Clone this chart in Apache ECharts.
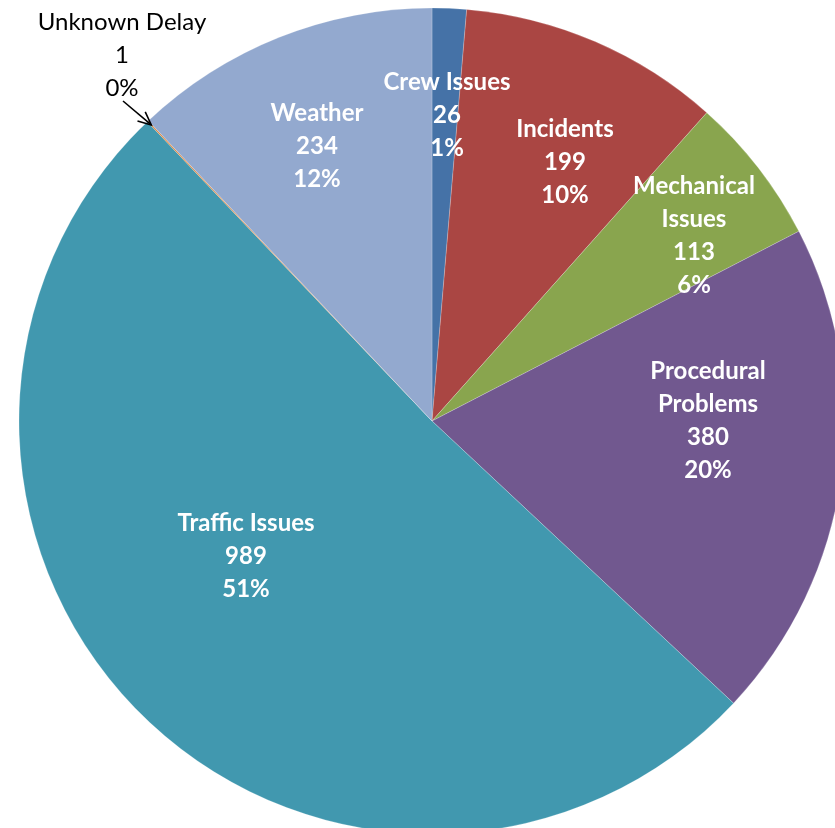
<!DOCTYPE html>
<html>
<head>
<meta charset="utf-8">
<script src="https://cdn.jsdelivr.net/npm/echarts@6/dist/echarts.min.js"></script>
<style>
  html, body { margin: 0; padding: 0; background: #fff; }
  #chart { width: 835px; height: 828px; }
</style>
</head>
<body>
<div id="chart"></div>
<script>
// categories, in drawing order clockwise from 12 o'clock
var categories = ['Crew Issues', 'Incidents', 'Mechanical Issues', 'Procedural Problems', 'Traffic Issues', 'Unknown Delay', 'Weather'];
var labelNames = ['Crew Issues', 'Incidents', 'Mechanical\nIssues', 'Procedural\nProblems', 'Traffic Issues', 'Unknown Delay', 'Weather'];
var delays = [26, 199, 113, 380, 989, 1, 234];
var colors = ['#4572A7', '#AA4643', '#89A54E', '#71588F', '#4198AF', '#DB843D', '#93A9CF'];

// where each data label sits (block centre)
var labelPos = [[447, 115], [565, 162], [694, 236], [708, 421], [246, 556], [122, 55], [317, 146]];

var cx = 432, cy = 421, R = 413;
var total = delays.reduce(function (a, b) { return a + b; }, 0);

// point on the rim in the middle of the 'Unknown Delay' slice (arrow tip)
var unkIdx = categories.indexOf('Unknown Delay');
var before = 0;
for (var i = 0; i < unkIdx; i++) before += delays[i];
var ang = (90 - (before + delays[unkIdx] / 2) / total * 360) * Math.PI / 180;
var tip = [cx + (R - 5) * Math.cos(ang), cy - (R - 5) * Math.sin(ang)];
var tail = [123, 101];

// arrow head
var dx = tip[0] - tail[0], dy = tip[1] - tail[1];
var len = Math.sqrt(dx * dx + dy * dy);
var ux = dx / len, uy = dy / len;
var headLen = 13, headW = 6;
var head = [
  [tip[0] - ux * headLen - uy * headW, tip[1] - uy * headLen + ux * headW],
  [tip[0], tip[1]],
  [tip[0] - ux * headLen + uy * headW, tip[1] - uy * headLen - ux * headW]
];

var seriesData = categories.map(function (name, i) {
  var item = {
    name: name,
    value: delays[i],
    itemStyle: { color: colors[i] }
  };
  if (i === unkIdx) {
    item.label = {
      position: 'outside',
      color: '#000',
      fontWeight: 'normal'
    };
  }
  return item;
});

var myChart = echarts.init(document.getElementById('chart'));
var option = {
  animation: false,
  series: [
    {
      type: 'pie',
      center: [cx, cy],
      radius: R,
      startAngle: 90,
      clockwise: true,
      percentPrecision: 0,
      avoidLabelOverlap: false,
      itemStyle: { borderColor: 'rgba(255,255,255,0.35)', borderWidth: 0.6 },
      label: {
        show: true,
        position: 'inside',
        color: '#fff',
        fontFamily: 'Lato',
        fontWeight: 'bold',
        fontSize: 24,
        lineHeight: 33,
        align: 'center',
        formatter: function (p) {
          return labelNames[p.dataIndex] + '\n' + p.value + '\n' + p.percent + '%';
        }
      },
      labelLine: { show: false },
      labelLayout: function (params) {
        var p = labelPos[params.dataIndex];
        return { x: p[0], y: p[1], align: 'center', verticalAlign: 'middle' };
      },
      data: seriesData
    }
  ],
  graphic: [
    {
      type: 'line',
      z: 100,
      shape: { x1: tail[0], y1: tail[1], x2: tip[0], y2: tip[1] },
      style: { stroke: '#000', lineWidth: 1.6 }
    },
    {
      type: 'polyline',
      z: 100,
      shape: { points: head },
      style: { stroke: '#000', lineWidth: 1.6, fill: null }
    }
  ]
};
myChart.setOption(option);
</script>
</body>
</html>
